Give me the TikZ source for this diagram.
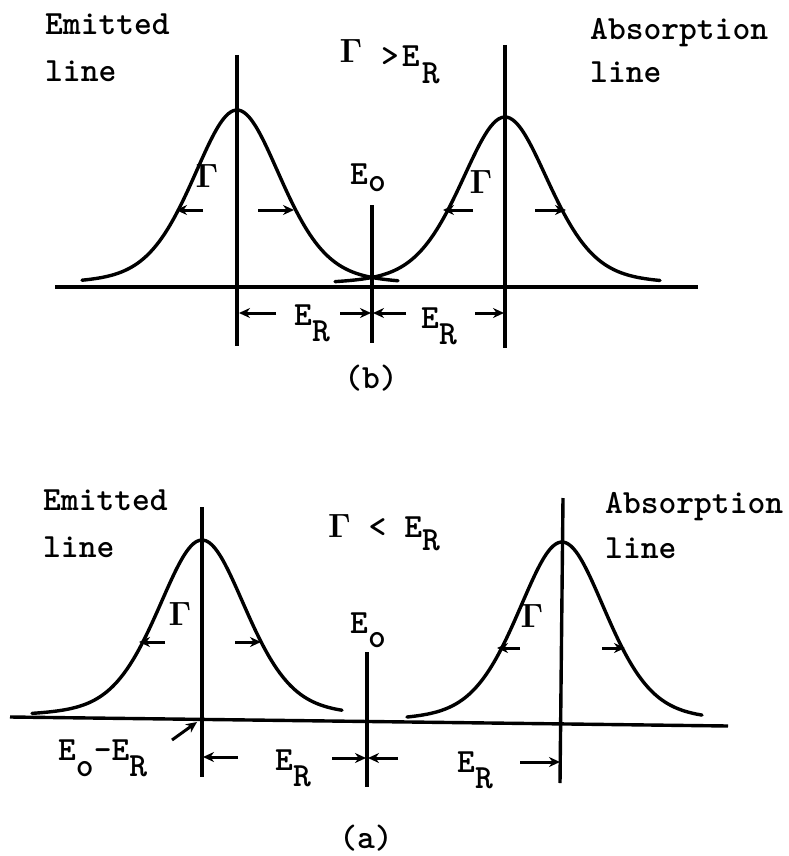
\documentclass[tikz,border=0pt]{standalone}
\usetikzlibrary{arrows.meta}
\newcommand\lowR[1]{\raisebox{-0.5em}{#1}}
\newcommand\lowO[2]{\raisebox{-#1em}{#2}}
\newcommand\Gm{\scalebox{1.35}{$\mathbf{\Gamma}$}}
\begin{document}
\begin{tikzpicture}[x=1pt,y=-1pt,
  declare function={pv(\t)=0.35/(1+(\t/53)^2)+0.65*exp(-0.693*(\t/53)^2);},
  ln/.style={line width=3.4pt},
  crv/.style={line width=3.4pt, line join=round, line cap=round},
  arr/.style={line width=3pt, -{Stealth[length=11pt,width=10pt]}},
  txt/.style={font=\fontsize{33.9}{36}\selectfont\ttfamily\bfseries, inner sep=0pt, anchor=base west},
  gam/.style={font=\fontsize{33.9}{36}\selectfont\ttfamily\bfseries, inner sep=0pt, anchor=base}]
\useasboundingbox (0,0) rectangle (788,856);

% ================= (b) top panel =================
\coordinate (bax1) at (55,287);
\coordinate (bax2) at (698,287);
\draw[ln] (bax1) -- (bax2);
\coordinate (bL1) at (237,55);  \coordinate (bL2) at (237,346);
\coordinate (bR1) at (505,45);  \coordinate (bR2) at (505,348);
\coordinate (bE1) at (372,205); \coordinate (bE2) at (372,343);
\draw[ln] (bL1) -- (bL2);
\draw[ln] (bR1) -- (bR2);
\draw[ln] (bE1) -- (bE2);
\draw[crv] plot[domain=-155:161, samples=120, smooth] ({237+\x},{287-177*pv(\x)});
\draw[crv] plot[domain=-170:155, samples=120, smooth] ({505+\x},{287-170*pv(\x)});

\node[txt] (bEm) at (45,35) {Emitted};
\node[txt] (bEl) at (45,82) {line};
\node[txt] (bAb) at (590,40) {Absorption};
\node[txt] (bAl) at (590,83) {line};
\node[gam] (bG) at (351,63) {\Gm};
\node[txt] (bGE) at (381,67) {>\kern3pt E\kern2pt\lowR{R}};
\node[txt] (bEo) at (350,184) {E\lowO{0.22}{o}};
\node[gam] (bGl) at (207,187) {\Gm};
\node[gam] (bGr) at (481,193) {\Gm};
\node[txt] (bER1) at (294,325) {E\lowR{R}};
\node[txt] (bER2) at (421,328) {E\lowR{R}};
\node[gam] (blab) at (371,388) {(b)};

\coordinate (bg1t) at (203,210); \coordinate (bg1h) at (176,210);
\coordinate (bg2t) at (258,210); \coordinate (bg2h) at (294,210);
\coordinate (bg3t) at (473,210); \coordinate (bg3h) at (443,210);
\coordinate (bg4t) at (535,210); \coordinate (bg4h) at (566,210);
\draw[arr] (bg1t) -- (bg1h);
\draw[arr] (bg2t) -- (bg2h);
\draw[arr] (bg3t) -- (bg3h);
\draw[arr] (bg4t) -- (bg4h);

\coordinate (bd1t) at (276,313); \coordinate (bd1h) at (239,313);
\coordinate (bd2t) at (340,313); \coordinate (bd2h) at (371,313);
\coordinate (bd3t) at (406,313); \coordinate (bd3h) at (373,313);
\coordinate (bd4t) at (475,313); \coordinate (bd4h) at (504,313);
\draw[arr] (bd1t) -- (bd1h);
\draw[arr] (bd2t) -- (bd2h);
\draw[arr] (bd3t) -- (bd3h);
\draw[arr] (bd4t) -- (bd4h);

% ================= (a) bottom panel =================
\coordinate (aax1) at (10,717);
\coordinate (aax2) at (728,726);
\draw[ln] (aax1) -- (aax2);
\coordinate (aL1) at (202,507); \coordinate (aL2) at (202,777);
\coordinate (aE1) at (367,652); \coordinate (aE2) at (367,787);
\coordinate (aR1) at (563,498); \coordinate (aR2) at (560,783);
\draw[ln] (aL1) -- (aL2);
\draw[ln] (aE1) -- (aE2);
\draw[ln] (aR1) -- (aR2);
\draw[crv] plot[domain=-170:140, samples=120, smooth] ({202+\x},{719-179*pv(\x)});
\draw[crv] plot[domain=-155:140, samples=120, smooth] ({562+\x},{724-182*pv(\x)});

\node[txt] (aEm) at (43,510) {Emitted};
\node[txt] (aEl) at (43,557) {line};
\node[txt] (aAb) at (605,513) {Absorption};
\node[txt] (aAl) at (605,558) {line};
\node[txt] (aGE) at (328,537) {\Gm{} < E\lowO{0.4}{R}};
\node[txt] (aEo) at (350,633) {E\lowO{0.42}{o}};
\node[gam] (aGl) at (180,625) {\Gm};
\node[gam] (aGr) at (532,627) {\Gm};
\node[txt] (aEoER) at (58,760) {E\lowO{0.5}{o}-E\lowR{R}};
\node[txt] (aER1) at (275,770) {E\lowR{R}};
\node[txt] (aER2) at (457,772) {E\lowR{R}};
\node[gam] (alab) at (366,848) {(a)};

\coordinate (ap1) at (172,740); \coordinate (ap2) at (197,722);
\draw[arr] (ap1) -- (ap2);

\coordinate (ag1t) at (165,642); \coordinate (ag1h) at (139,642);
\coordinate (ag2t) at (235,642); \coordinate (ag2h) at (261,642);
\coordinate (ag3t) at (520,648); \coordinate (ag3h) at (497,648);
\coordinate (ag4t) at (602,648); \coordinate (ag4h) at (625,648);
\draw[arr] (ag1t) -- (ag1h);
\draw[arr] (ag2t) -- (ag2h);
\draw[arr] (ag3t) -- (ag3h);
\draw[arr] (ag4t) -- (ag4h);

\coordinate (ad1t) at (238,757); \coordinate (ad1h) at (203,757);
\coordinate (ad2t) at (332,758); \coordinate (ad2h) at (366,758);
\coordinate (ad3t) at (398,758); \coordinate (ad3h) at (368,758);
\coordinate (ad4t) at (520,762); \coordinate (ad4h) at (560,762);
\draw[arr] (ad1t) -- (ad1h);
\draw[arr] (ad2t) -- (ad2h);
\draw[arr] (ad3t) -- (ad3h);
\draw[arr] (ad4t) -- (ad4h);
\end{tikzpicture}
\end{document}
